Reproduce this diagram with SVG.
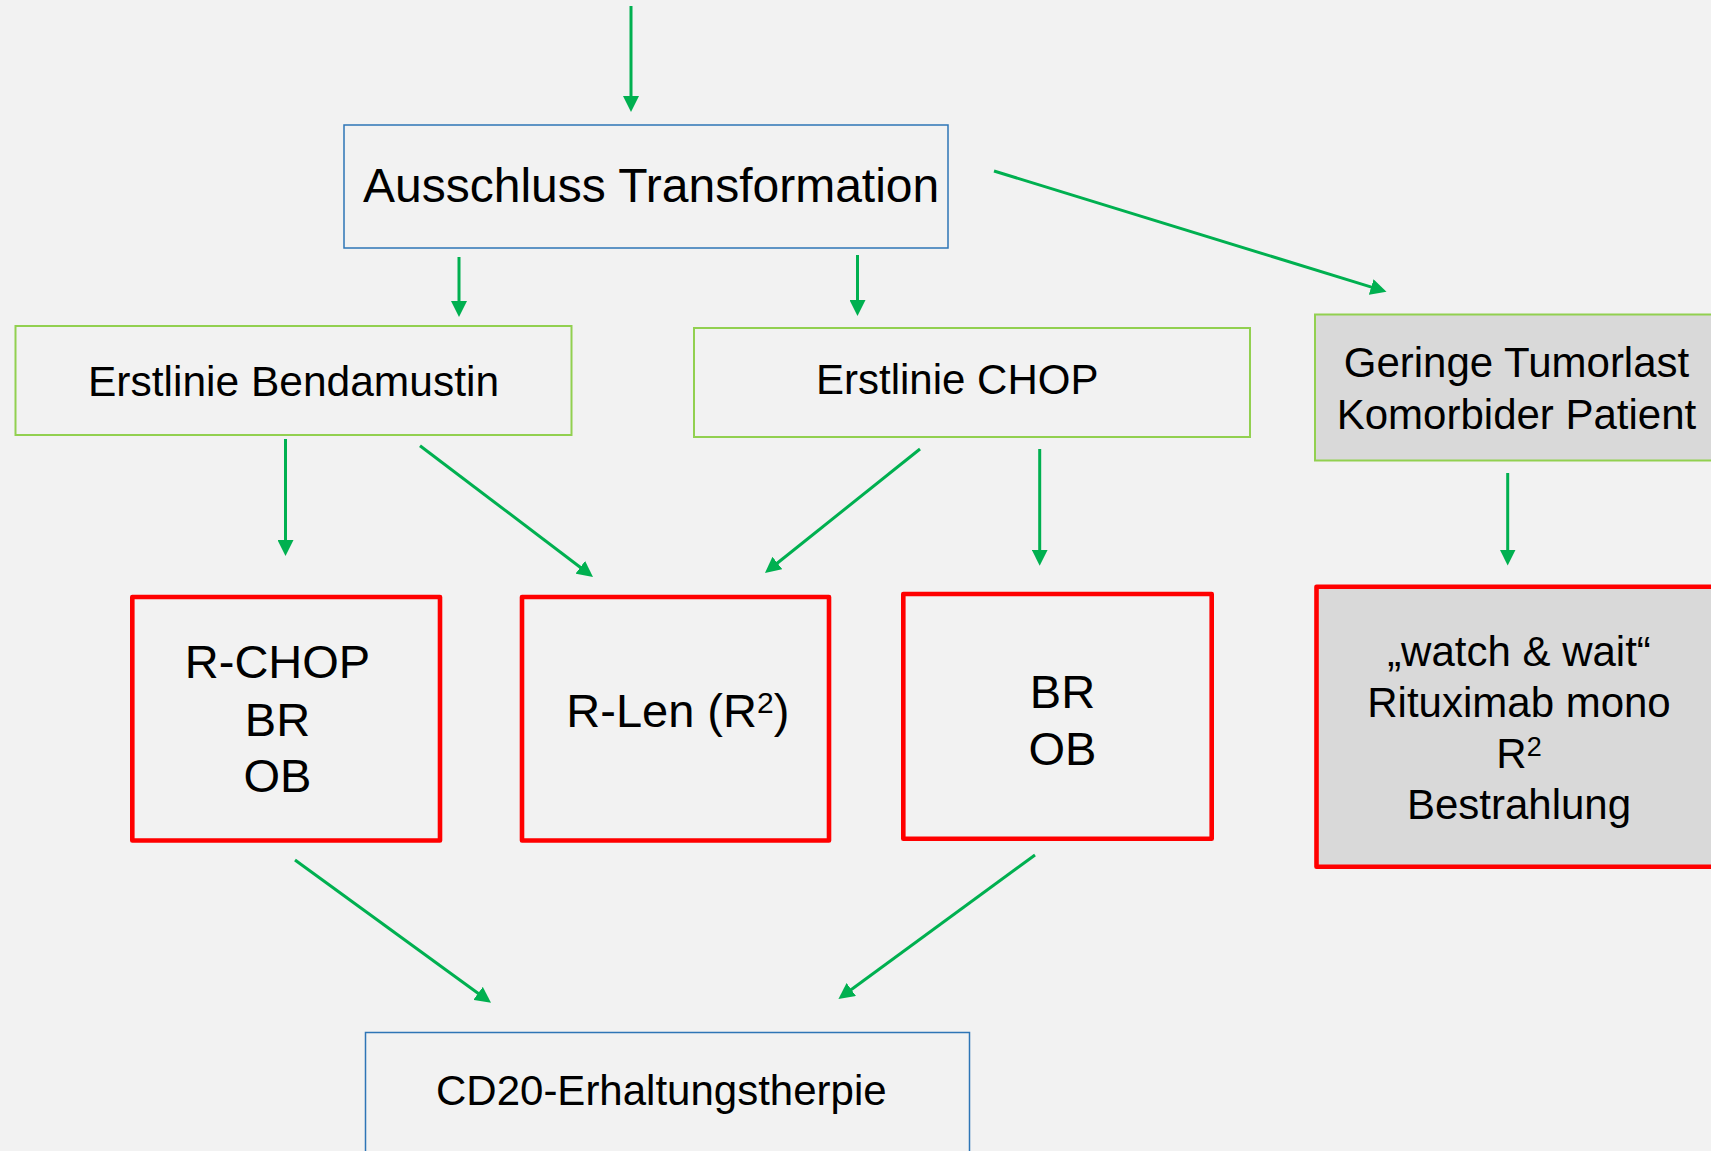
<svg xmlns="http://www.w3.org/2000/svg" width="1711" height="1151" viewBox="0 0 1711 1151">
<style>
.t{font-family:"Liberation Sans",Arial,sans-serif;fill:#000}
.blue{fill:none;stroke:#2E75B6;stroke-width:1.5}
.green{fill:none;stroke:#92D050;stroke-width:2}
.grey{fill:#D9D9D9;stroke:#92D050;stroke-width:2}
.red{fill:none;stroke:#FF0000;stroke-width:4.6;stroke-linejoin:round}
.redg{fill:#D9D9D9;stroke:#FF0000;stroke-width:4.6;stroke-linejoin:round}
.c{fill:none;stroke:#00B050;stroke-width:3;marker-end:url(#ah)}
</style>
<defs>
<marker id="ah" markerUnits="userSpaceOnUse" markerWidth="16" markerHeight="16" refX="2" refY="8" orient="auto">
<path d="M0,0 L16,8 L0,16 z" fill="#00B050"/>
</marker>
</defs>
<rect x="0" y="0" width="1711" height="1151" fill="#F2F2F2"/>
<g id="connectors">
<line class="c" x1="631" y1="6" x2="631" y2="98"/>
<line class="c" x1="459" y1="257" x2="459" y2="303"/>
<line class="c" x1="857.5" y1="255" x2="857.5" y2="302"/>
<line class="c" x1="994" y1="171" x2="1373.1" y2="287.6"/>
<line class="c" x1="285.5" y1="439" x2="285.5" y2="542"/>
<line class="c" x1="420" y1="445.7" x2="581.85" y2="568.5"/>
<line class="c" x1="920" y1="449" x2="775.9" y2="564.25"/>
<line class="c" x1="1039.7" y1="449" x2="1039.7" y2="551.7"/>
<line class="c" x1="1507.7" y1="473" x2="1507.7" y2="551.5"/>
<line class="c" x1="295" y1="860" x2="479.7" y2="994.5"/>
<line class="c" x1="1035" y1="855" x2="849.7" y2="990.7"/>
</g>
<g id="ausschluss">
<rect class="blue" x="344" y="125" width="604" height="123"/>
<text class="t" x="363" y="202" font-size="48">Ausschluss Transformation</text>
</g>
<g id="bendamustin">
<rect class="green" x="15.5" y="326" width="556" height="109"/>
<text class="t" x="88" y="396" font-size="42.5">Erstlinie Bendamustin</text>
</g>
<g id="chop">
<rect class="green" x="694" y="328" width="556" height="109"/>
<text class="t" x="816" y="393.5" font-size="42">Erstlinie CHOP</text>
</g>
<g id="geringe">
<rect class="grey" x="1315" y="314.5" width="420" height="146"/>
<text class="t" x="1516.5" y="377" font-size="42" text-anchor="middle">Geringe Tumorlast</text>
<text class="t" x="1516.5" y="428.5" font-size="42" text-anchor="middle">Komorbider Patient</text>
</g>
<g id="rchop">
<rect class="red" x="132.3" y="597" width="307.7" height="243.5"/>
<text class="t" x="277.5" y="677.7" font-size="47" text-anchor="middle">R-CHOP</text>
<text class="t" x="277.5" y="735.7" font-size="47" text-anchor="middle">BR</text>
<text class="t" x="277.5" y="792" font-size="47" text-anchor="middle">OB</text>
</g>
<g id="rlen">
<rect class="red" x="522" y="597" width="307" height="243.5"/>
<text class="t" x="566.3" y="727.3" font-size="47">R-Len (R<tspan font-size="30" dy="-14">2</tspan><tspan dy="14">)</tspan></text>
</g>
<g id="brob">
<rect class="red" x="903.3" y="594" width="308.4" height="244.7"/>
<text class="t" x="1062.5" y="708.3" font-size="47" text-anchor="middle">BR</text>
<text class="t" x="1062.5" y="765" font-size="47" text-anchor="middle">OB</text>
</g>
<g id="watchwait">
<rect class="redg" x="1316.5" y="586.8" width="420" height="280"/>
<text class="t" x="1519" y="665.5" font-size="42" text-anchor="middle">„watch &amp; wait“</text>
<text class="t" x="1519" y="717" font-size="42" text-anchor="middle">Rituximab mono</text>
<text class="t" x="1519" y="768.3" font-size="42" text-anchor="middle">R<tspan font-size="27" dy="-12">2</tspan></text>
<text class="t" x="1519" y="818.5" font-size="42" text-anchor="middle">Bestrahlung</text>
</g>
<g id="cd20">
<rect class="blue" x="365.5" y="1032.5" width="604" height="150"/>
<text class="t" x="436" y="1105" font-size="42">CD20-Erhaltungstherpie</text>
</g>
</svg>
